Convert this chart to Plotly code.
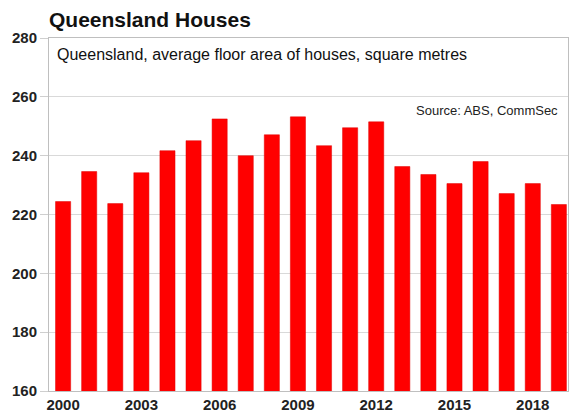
import plotly.graph_objects as go

years = list(range(2000, 2020))
floor_area = [224.4, 234.6, 223.7, 234.2, 241.7, 245.1, 252.5, 240.0, 247.1, 253.2,
              243.4, 249.5, 251.5, 236.3, 233.6, 230.5, 238.0, 227.1, 230.5, 223.4]
x_ticks = [2000, 2003, 2006, 2009, 2012, 2015, 2018]
y_ticks = [160, 180, 200, 220, 240, 260, 280]

title_text = "Queensland Houses"
subtitle_text = "Queensland, average floor area of houses, square metres"
source_text = "Source: ABS, CommSec"

fig = go.Figure()
fig.add_trace(go.Bar(
    x=years, y=floor_area,
    marker=dict(color="#ff0000", line=dict(color="#e00000", width=0.5)),
    width=0.58,
))

L, R, T, B = 49, 5, 38, 26
W, H = 573, 417
pw, ph = W - L - R, H - T - B

fig.update_layout(
    width=W, height=H,
    margin=dict(l=L, r=R, t=T, b=B, pad=0),
    paper_bgcolor="white", plot_bgcolor="white",
    showlegend=False,
    font=dict(family="Liberation Sans, Arial, sans-serif", color="#222222"),
    xaxis=dict(
        range=[1999.46, 2019.35],
        tickmode="array", tickvals=x_ticks,
        ticktext=[str(v) for v in x_ticks],
        tickfont=dict(size=15, color="#222222", family="Liberation Sans, Arial, sans-serif", weight="bold"),
        showgrid=False, showline=True, linecolor="#bfbfbf", linewidth=1,
        mirror=True, ticks="", zeroline=False,
    ),
    yaxis=dict(
        range=[160, 280],
        tickmode="array", tickvals=y_ticks,
        tickfont=dict(size=15, color="#222222", family="Liberation Sans, Arial, sans-serif", weight="bold"),
        showgrid=True, gridcolor="#d9d9d9", gridwidth=1,
        showline=True, linecolor="#bfbfbf", linewidth=1, mirror=True,
        ticks="outside", ticklen=8, tickcolor="#cfcfcf", zeroline=False,
    ),
    annotations=[
        dict(text="<b>" + title_text + "</b>", xref="paper", yref="paper",
             x=(47 - L) / pw, y=(H - B - 20) / ph, xanchor="left", yanchor="middle",
             showarrow=False, font=dict(size=21, color="#111111")),
        dict(text=subtitle_text, xref="paper", yref="paper",
             x=(55 - L) / pw, y=(H - B - 55) / ph, xanchor="left", yanchor="middle",
             showarrow=False, font=dict(size=16, color="#111111")),
        dict(text=source_text, xref="paper", yref="paper",
             x=(560 - L) / pw, y=(H - B - 110) / ph, xanchor="right", yanchor="middle",
             showarrow=False, font=dict(size=13, color="#222222")),
    ],
)

fig.write_html("out.html",
               config={"displayModeBar": False},
               post_script="document.body.style.margin='0';document.body.style.overflow='hidden';")
